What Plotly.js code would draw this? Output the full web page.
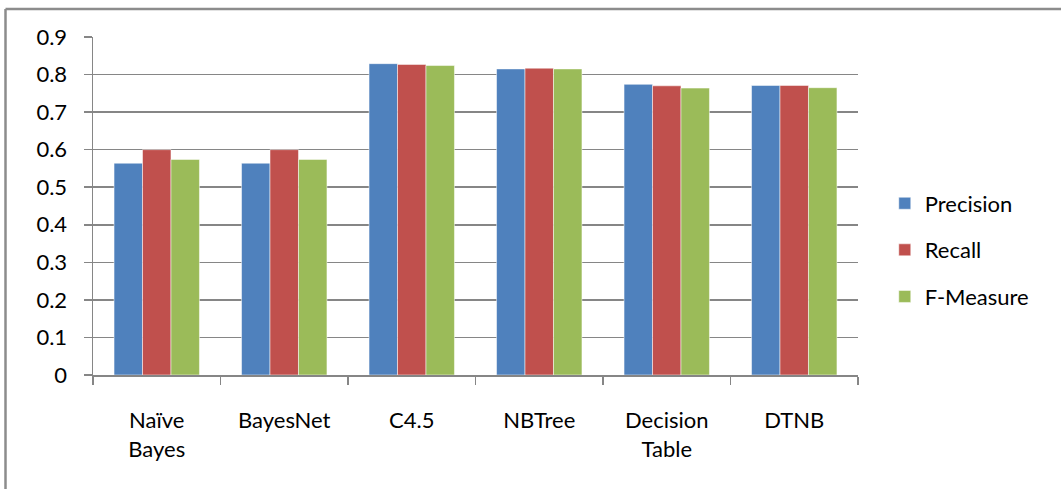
<!DOCTYPE html>
<html>
<head>
<meta charset="utf-8">
<script src="https://cdn.plot.ly/plotly-3.0.1.min.js"></script>
<style>
html,body{margin:0;padding:0;background:#fff;}
#chart{width:1061px;height:489px;}
</style>
</head>
<body>
<div id="chart"></div>
<script>
var categories = ["Naïve<br>Bayes", "BayesNet", "C4.5", "NBTree", "Decision<br>Table", "DTNB"];
var seriesNames = ["Precision", "Recall", "F-Measure"];
var precision = [0.564, 0.564, 0.829, 0.815, 0.774, 0.771];
var recall    = [0.600, 0.600, 0.827, 0.817, 0.770, 0.771];
var fmeasure  = [0.574, 0.574, 0.824, 0.815, 0.764, 0.765];
var colors = ["#4F81BD", "#C0504D", "#9BBB59"];
var yTicks = [0, 0.1, 0.2, 0.3, 0.4, 0.5, 0.6, 0.7, 0.8, 0.9];
var yTickText = ["0", "0.1", "0.2", "0.3", "0.4", "0.5", "0.6", "0.7", "0.8", "0.9"];

var values = [precision, recall, fmeasure];
var traces = values.map(function(v, i){
  return {
    type: "bar",
    x: categories,
    y: v,
    name: seriesNames[i],
    legendgroup: "g" + i,
    marker: {color: colors[i], line: {color: "rgba(255,255,255,0.5)", width: 1}},
    hoverinfo: "x+y+name"
  };
});

var font = {family: "Lato, 'Open Sans', sans-serif", size: 22, color: "#000"};
var layout = {
  width: 1061, height: 489,
  margin: {l: 93, r: 203, t: 37, b: 114},
  paper_bgcolor: "#fff", plot_bgcolor: "#fff",
  font: font,
  barmode: "group",
  bargap: 0.33,
  bargroupgap: 0,
  showlegend: true,
  legend: {
    x: 1.035, xanchor: "left", y: 0.37, yanchor: "middle",
    traceorder: "grouped", tracegroupgap: 15,
    font: font, itemwidth: 30
  },
  xaxis: {
    type: "category",
    showline: true, linecolor: "#868686", linewidth: 1.5,
    ticks: "outside", tickson: "boundaries", ticklen: 8, tickcolor: "#868686", tickwidth: 1.5,
    showgrid: false, zeroline: false,
    ticklabelstandoff: 25,
    tickfont: font
  },
  yaxis: {
    range: [0, 0.9],
    tickvals: yTicks, ticktext: yTickText,
    showline: true, linecolor: "#868686", linewidth: 1.5,
    ticks: "outside", ticklen: 8, tickcolor: "#868686", tickwidth: 1.5,
    showgrid: true, gridcolor: "#868686", gridwidth: 1.5,
    zeroline: false,
    ticklabelstandoff: 12,
    tickfont: font
  },
  shapes: [
    {type: "line", xref: "paper", yref: "paper",
     x0: (5.5 - 93) / 765, x1: (5.5 - 93) / 765,
     y0: (375 - 9) / 338, y1: (375 - 500) / 338,
     line: {color: "#8c8c8c", width: 2.5}},
    {type: "line", xref: "paper", yref: "paper",
     x0: (5.5 - 93) / 765, x1: (1070 - 93) / 765,
     y0: (375 - 9) / 338, y1: (375 - 9) / 338,
     line: {color: "#8c8c8c", width: 2.5}}
  ]
};

Plotly.newPlot("chart", traces, layout, {displayModeBar: false, staticPlot: true});
</script>
</body>
</html>
